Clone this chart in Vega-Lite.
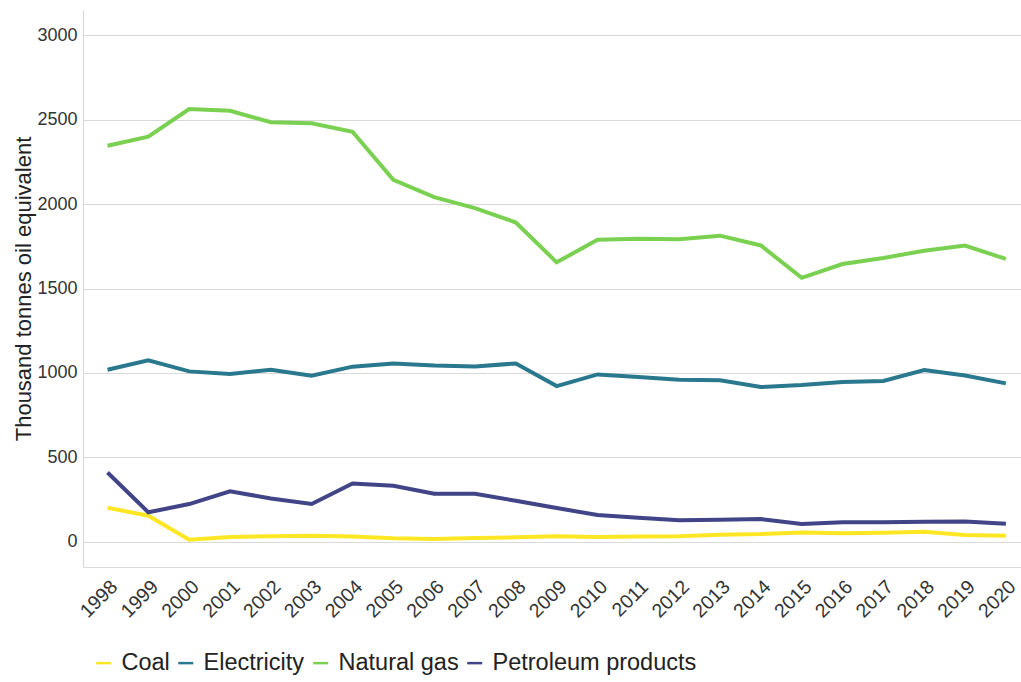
{
  "$schema": "https://vega.github.io/schema/vega-lite/v6.json",
  "autosize": {"type": "none"},
  "padding": {"left": 83, "top": 10, "right": 0, "bottom": 115},
  "width": 938,
  "height": 557,
  "background": "white",
  "config": {
    "font": "Liberation Sans",
    "view": {"stroke": null},
    "axis": {"labelColor": "#333333", "titleColor": "#222222", "labelFont": "Liberation Sans", "titleFont": "Liberation Sans", "titleFontWeight": "normal"},
    "legend": {"labelFont": "Liberation Sans"}
  },
  "data": {
    "values": [
      {"year": 1998, "fuel": "Coal", "value": 201},
      {"year": 1999, "fuel": "Coal", "value": 154},
      {"year": 2000, "fuel": "Coal", "value": 12},
      {"year": 2001, "fuel": "Coal", "value": 28},
      {"year": 2002, "fuel": "Coal", "value": 32},
      {"year": 2003, "fuel": "Coal", "value": 35},
      {"year": 2004, "fuel": "Coal", "value": 30},
      {"year": 2005, "fuel": "Coal", "value": 20},
      {"year": 2006, "fuel": "Coal", "value": 16},
      {"year": 2007, "fuel": "Coal", "value": 22},
      {"year": 2008, "fuel": "Coal", "value": 26},
      {"year": 2009, "fuel": "Coal", "value": 32},
      {"year": 2010, "fuel": "Coal", "value": 28},
      {"year": 2011, "fuel": "Coal", "value": 30},
      {"year": 2012, "fuel": "Coal", "value": 32},
      {"year": 2013, "fuel": "Coal", "value": 41},
      {"year": 2014, "fuel": "Coal", "value": 45},
      {"year": 2015, "fuel": "Coal", "value": 55},
      {"year": 2016, "fuel": "Coal", "value": 50},
      {"year": 2017, "fuel": "Coal", "value": 53},
      {"year": 2018, "fuel": "Coal", "value": 59},
      {"year": 2019, "fuel": "Coal", "value": 40},
      {"year": 2020, "fuel": "Coal", "value": 35},
      {"year": 1998, "fuel": "Electricity", "value": 1019},
      {"year": 1999, "fuel": "Electricity", "value": 1074},
      {"year": 2000, "fuel": "Electricity", "value": 1009},
      {"year": 2001, "fuel": "Electricity", "value": 993},
      {"year": 2002, "fuel": "Electricity", "value": 1019},
      {"year": 2003, "fuel": "Electricity", "value": 983},
      {"year": 2004, "fuel": "Electricity", "value": 1037},
      {"year": 2005, "fuel": "Electricity", "value": 1056},
      {"year": 2006, "fuel": "Electricity", "value": 1044},
      {"year": 2007, "fuel": "Electricity", "value": 1038},
      {"year": 2008, "fuel": "Electricity", "value": 1056},
      {"year": 2009, "fuel": "Electricity", "value": 922},
      {"year": 2010, "fuel": "Electricity", "value": 991},
      {"year": 2011, "fuel": "Electricity", "value": 975},
      {"year": 2012, "fuel": "Electricity", "value": 960},
      {"year": 2013, "fuel": "Electricity", "value": 956},
      {"year": 2014, "fuel": "Electricity", "value": 916},
      {"year": 2015, "fuel": "Electricity", "value": 928},
      {"year": 2016, "fuel": "Electricity", "value": 946},
      {"year": 2017, "fuel": "Electricity", "value": 952},
      {"year": 2018, "fuel": "Electricity", "value": 1017},
      {"year": 2019, "fuel": "Electricity", "value": 985},
      {"year": 2020, "fuel": "Electricity", "value": 938},
      {"year": 1998, "fuel": "Natural gas", "value": 2346},
      {"year": 1999, "fuel": "Natural gas", "value": 2400},
      {"year": 2000, "fuel": "Natural gas", "value": 2563},
      {"year": 2001, "fuel": "Natural gas", "value": 2553},
      {"year": 2002, "fuel": "Natural gas", "value": 2485},
      {"year": 2003, "fuel": "Natural gas", "value": 2479},
      {"year": 2004, "fuel": "Natural gas", "value": 2429},
      {"year": 2005, "fuel": "Natural gas", "value": 2144},
      {"year": 2006, "fuel": "Natural gas", "value": 2041},
      {"year": 2007, "fuel": "Natural gas", "value": 1976},
      {"year": 2008, "fuel": "Natural gas", "value": 1891},
      {"year": 2009, "fuel": "Natural gas", "value": 1655},
      {"year": 2010, "fuel": "Natural gas", "value": 1789},
      {"year": 2011, "fuel": "Natural gas", "value": 1795},
      {"year": 2012, "fuel": "Natural gas", "value": 1792},
      {"year": 2013, "fuel": "Natural gas", "value": 1813},
      {"year": 2014, "fuel": "Natural gas", "value": 1755},
      {"year": 2015, "fuel": "Natural gas", "value": 1563},
      {"year": 2016, "fuel": "Natural gas", "value": 1645},
      {"year": 2017, "fuel": "Natural gas", "value": 1681},
      {"year": 2018, "fuel": "Natural gas", "value": 1724},
      {"year": 2019, "fuel": "Natural gas", "value": 1754},
      {"year": 2020, "fuel": "Natural gas", "value": 1675},
      {"year": 1998, "fuel": "Petroleum products", "value": 410},
      {"year": 1999, "fuel": "Petroleum products", "value": 174},
      {"year": 2000, "fuel": "Petroleum products", "value": 223},
      {"year": 2001, "fuel": "Petroleum products", "value": 298},
      {"year": 2002, "fuel": "Petroleum products", "value": 256},
      {"year": 2003, "fuel": "Petroleum products", "value": 223},
      {"year": 2004, "fuel": "Petroleum products", "value": 345},
      {"year": 2005, "fuel": "Petroleum products", "value": 331},
      {"year": 2006, "fuel": "Petroleum products", "value": 284},
      {"year": 2007, "fuel": "Petroleum products", "value": 284},
      {"year": 2008, "fuel": "Petroleum products", "value": 242},
      {"year": 2009, "fuel": "Petroleum products", "value": 199},
      {"year": 2010, "fuel": "Petroleum products", "value": 158},
      {"year": 2011, "fuel": "Petroleum products", "value": 142},
      {"year": 2012, "fuel": "Petroleum products", "value": 127},
      {"year": 2013, "fuel": "Petroleum products", "value": 130},
      {"year": 2014, "fuel": "Petroleum products", "value": 134},
      {"year": 2015, "fuel": "Petroleum products", "value": 105},
      {"year": 2016, "fuel": "Petroleum products", "value": 115},
      {"year": 2017, "fuel": "Petroleum products", "value": 115},
      {"year": 2018, "fuel": "Petroleum products", "value": 118},
      {"year": 2019, "fuel": "Petroleum products", "value": 120},
      {"year": 2020, "fuel": "Petroleum products", "value": 106}
    ]
  },
  "mark": {"type": "line", "strokeWidth": 4, "clip": true},
  "encoding": {
    "x": {
      "field": "year",
      "type": "quantitative",
      "scale": {"domain": [1997.4, 2020.37], "nice": false, "zero": false},
      "axis": {
        "values": [1998,1999,2000,2001,2002,2003,2004,2005,2006,2007,2008,2009,2010,2011,2012,2013,2014,2015,2016,2017,2018,2019,2020],
        "format": "d",
        "grid": false,
        "ticks": false,
        "labelAngle": -45,
        "labelAlign": "right",
        "labelBaseline": "top",
        "labelPadding": 10,
        "labelDx": 4,
        "labelFontSize": 19.5,
        "labelOverlap": false,
        "labelFlush": false,
        "domainColor": "#d9d9d9",
        "domainWidth": 1.2,
        "title": null
      }
    },
    "y": {
      "field": "value",
      "type": "quantitative",
      "scale": {"domain": [-150, 3150], "nice": false, "zero": false},
      "axis": {
        "values": [0, 500, 1000, 1500, 2000, 2500, 3000],
        "format": "d",
        "grid": true,
        "gridColor": "#d9d9d9",
        "gridWidth": 1.2,
        "ticks": false,
        "labelPadding": 6,
        "labelFontSize": 18,
        "domainColor": "#d9d9d9",
        "domainWidth": 1.2,
        "title": "Thousand tonnes oil equivalent",
        "titleFontSize": 22,
        "titleX": -53,
        "titleBaseline": "alphabetic"
      }
    },
    "color": {
      "field": "fuel",
      "type": "nominal",
      "scale": {
        "domain": ["Coal", "Electricity", "Natural gas", "Petroleum products"],
        "range": ["#FDE725", "#2A788E", "#7AD151", "#414487"]
      },
      "legend": {
        "title": null,
        "orient": "none",
        "direction": "horizontal",
        "legendX": 9,
        "legendY": 641,
        "symbolType": "stroke",
        "symbolSize": 225,
        "symbolStrokeWidth": 2.5,
        "labelFontSize": 23.5,
        "labelLimit": 0,
        "labelColor": "#222222",
        "labelOffset": 6,
        "columnPadding": 3
      }
    }
  }
}
